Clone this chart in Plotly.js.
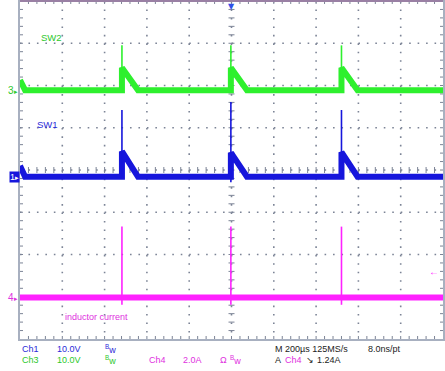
<!DOCTYPE html>
<html><head><meta charset="utf-8">
<script src="https://cdn.plot.ly/plotly-3.0.1.min.js"></script>
<style>html,body{margin:0;padding:0;background:#fff}#chart{width:445px;height:371px}</style>
</head><body><div id="chart"></div>
<script>
// ---- waveform data (time in µs) ----
const sw2Time  = [0, 24, 482, 482, 558, 997, 997, 1073, 1520, 1520, 1596, 2000];
const sw2Volts = [2.4, 0, 0, 5.3, 0, 0, 5.3, 0, 0, 5.3, 0, 0];
const sw1Time  = [0, 24, 482, 482, 558, 997, 997, 1073, 1520, 1520, 1596, 2000];
const sw1Volts = [2.6, 0, 0, 6.0, 0, 0, 5.7, 0, 0, 5.8, 0, 0];
const iTime    = [0, 2000];
const iAmps    = [0, 0];
const spikeTimes   = [482, 997, 1520];
const sw2SpikeHigh = [10.6, 10.6, 10.6];
const sw2SpikeLow  = [0, 0, 0];
const sw1SpikeHigh = [15.8, 17.7, 15.8];
const sw1SpikeLow  = [0, -1.3, 0];
const iSpikeHigh   = [3.36, 3.36, 3.36];
const iSpikeLow    = [-0.34, -0.34, -0.34];
const triggerLevel = 1.24; // A
// channel settings: scale per division and ground position (divisions from centre)
const ch3 = {scale: 10, ground: 1.89, color: '#2ef02e', text: '#2cc82c'};
const ch1 = {scale: 10, ground: -0.16, color: '#1616dc', text: '#2a2ad8'};
const ch4 = {scale: 2,  ground: -3.02, color: '#ff22ff', text: '#e030e0'};

const toDiv = (ch, arr) => arr.map(v => ch.ground + v / ch.scale);
function spikeTrace(ch, lows, highs) {
  const x = [], y = [];
  spikeTimes.forEach((t, i) => { x.push(t, t, null); y.push(ch.ground + lows[i]/ch.scale, ch.ground + highs[i]/ch.scale, null); });
  return {x, y, mode: 'lines', line: {color: ch.color, width: 1.6}, hoverinfo: 'skip'};
}
const band = (ch, x, v) => ({x, y: toDiv(ch, v), mode: 'lines', line: {color: ch.color, width: 6}, hoverinfo: 'skip'});

const data = [
  band(ch3, sw2Time, sw2Volts), spikeTrace(ch3, sw2SpikeLow, sw2SpikeHigh),
  band(ch1, sw1Time, sw1Volts), spikeTrace(ch1, sw1SpikeLow, sw1SpikeHigh),
  band(ch4, iTime, iAmps), spikeTrace(ch4, iSpikeLow, iSpikeHigh)
];

// pixel helpers for label placement
const pxX = px => (px - 20) / 423 * 2000;
const pxY = py => (170 - py) / 42.25;
const FONT = 'Liberation Sans, Arial, sans-serif';
const G = '#7c8496';
const TX = 14.2, TY = 0.071; // 3 px tick length in data units

// graticule (grid + ticks) as layout shapes
const shapes = [];
const L = (x0, y0, x1, y1, extra) => shapes.push(Object.assign({type:'line', layer:'below', xref:'x', yref:'y', x0, y0, x1, y1, line:{color:G, width:1}}, extra || {}));
for (let k = 1; k < 10; k++) L(k*200, 4, k*200, -4, {line:{color:G, width:1.6, dash:'1.6px,6.86px'}});
for (let k = -3; k <= 3; k++) L(0, k, 2000, k, {line:{color:G, width:1.6, dash:'1.6px,6.86px'}});
for (let t = 40; t < 2000; t += 40) {
  L(t, -TY, t, TY); L(t, -4, t, -4 + TY); L(t, 4, t, 4 - TY);
}
for (let i = -19; i <= 19; i++) {
  const d = i / 5;
  L(1000 - TX, d, 1000 + TX, d); L(0, d, TX, d); L(2000, d, 2000 - TX, d);
}
shapes.push({type:'line', xref:'paper', yref:'paper', x0:0, x1:1, y0:1, y1:1, line:{color:'#9a80a4', width:2}});

const ann = [];
const A = (o) => ann.push(Object.assign({showarrow:false, font:{family:FONT, size:9}}, o));
A({text:'SW2', xref:'x', yref:'y', x:pxX(39), y:pxY(37.5), xanchor:'left', yanchor:'middle', font:{family:FONT, size:9.5, color:ch3.text}});
A({text:'SW1', xref:'x', yref:'y', x:pxX(35), y:pxY(124), xanchor:'left', yanchor:'middle', font:{family:FONT, size:9.5, color:ch1.text}});
A({text:'inductor current', xref:'x', yref:'y', x:pxX(63), y:pxY(317), xanchor:'left', yanchor:'middle', font:{family:FONT, size:9, color:ch4.text}});
// ground markers
A({text:'3<span style="font-size:7px">▸</span>', xref:'paper', yref:'y', x:-0.001, y:ch3.ground, xanchor:'right', yanchor:'middle', font:{family:FONT, size:10, color:ch3.text}});
A({text:'1<span style="font-size:7px">▸</span>', xref:'paper', yref:'y', x:-0.001, y:ch1.ground, xanchor:'right', yanchor:'middle', bgcolor:ch1.color, borderpad:0, font:{family:FONT, size:9, color:'#ffffff'}});
A({text:'4<span style="font-size:7px">▸</span>', xref:'paper', yref:'y', x:-0.001, y:ch4.ground, xanchor:'right', yanchor:'middle', font:{family:FONT, size:10, color:ch4.text}});
// trigger level arrow and trigger position
A({text:'←', xref:'paper', yref:'y', x:(441-20)/423, y:ch4.ground + triggerLevel/ch4.scale, xanchor:'right', yanchor:'middle', font:{family:FONT, size:10, color:ch4.color}});
A({text:'▼', xref:'x', yref:'paper', x:1000, y:1.004, xanchor:'center', yanchor:'top', font:{family:'DejaVu Sans', size:8, color:'#3050e8'}});
// bottom readouts
const r1 = (339 - 349) / 338, r2 = (339 - 360) / 338;
const B = (text, px, row, color) => A({text, xref:'paper', yref:'paper', x:(px-20)/423, y:row, xanchor:'left', yanchor:'middle', font:{family:FONT, size:9, color}});
B('Ch1', 20, r1, ch1.text); B('10.0V', 55, r1, ch1.text); B('<sup>B</sup>w', 103, r1, ch1.text);
B('M 200µs 125MS/s', 273, r1, '#222'); B('8.0ns/pt', 366, r1, '#222');
B('Ch3', 20, r2, ch3.text); B('10.0V', 55, r2, ch3.text); B('<sup>B</sup>w', 103, r2, ch3.text);
B('Ch4', 147, r2, ch4.text); B('2.0A', 181, r2, ch4.text); B('Ω', 218, r2, ch4.text); B('<sup>B</sup>w', 228, r2, ch4.text);
B('A', 273, r2, '#222'); B('Ch4', 283, r2, ch4.text); B('↘', 304, r2, '#222'); B('1.24A', 315, r2, '#222');

const axisBase = {showticklabels:false, zeroline:false, showgrid:false, ticks:'', showline:true, linecolor:'#a8b0c0', mirror:true, fixedrange:true};
const layout = {
  width:445, height:371, margin:{l:20, r:2, t:1, b:32},
  paper_bgcolor:'#ffffff', plot_bgcolor:'#ffffff', showlegend:false,
  xaxis: Object.assign({}, axisBase, {range:[0,2000], linewidth:1.5}),
  yaxis: Object.assign({}, axisBase, {range:[-4,4], linewidth:2.5}),
  shapes, annotations: ann
};
Plotly.newPlot('chart', data, layout, {displayModeBar:false, staticPlot:true});
</script></body></html>
